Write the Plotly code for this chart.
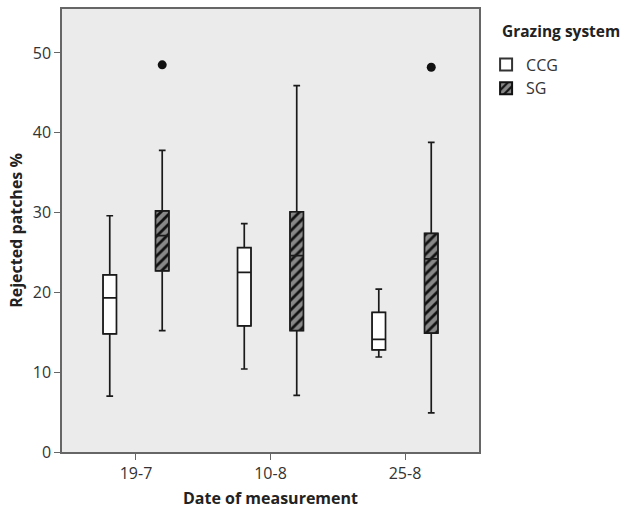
import plotly.graph_objects as go

dates = ["19-7", "10-8", "25-8"]
groups = ["CCG", "SG"]

ccg_low = [7.0, 10.4, 11.9]
ccg_q1 = [14.8, 15.8, 12.8]
ccg_med = [19.3, 22.5, 14.1]
ccg_q3 = [22.2, 25.6, 17.5]
ccg_high = [29.6, 28.6, 20.4]

sg_low = [15.2, 7.1, 4.9]
sg_q1 = [22.7, 15.2, 14.9]
sg_med = [27.1, 24.6, 24.2]
sg_q3 = [30.2, 30.1, 27.4]
sg_high = [37.8, 45.9, 38.8]

sg_outlier_date = ["19-7", "25-8"]
sg_outlier_val = [48.5, 48.2]

FONT = "Open Sans"
offset = 0.195
bw = 0.1
idx = list(range(len(dates)))
ccg_x = [i - offset for i in idx]
sg_x = [i + offset for i in idx]
out_x = [dates.index(d) + offset for d in sg_outlier_date]

fig = go.Figure()

# Box bodies (bars allow hatch patterns)
fig.add_trace(go.Bar(
    x=ccg_x, base=ccg_q1, y=[b - a for a, b in zip(ccg_q1, ccg_q3)],
    width=bw, name="CCG",
    marker=dict(color="white", line=dict(color="#333", width=1)),
    hoverinfo="skip",
))
fig.add_trace(go.Bar(
    x=sg_x, base=sg_q1, y=[b - a for a, b in zip(sg_q1, sg_q3)],
    width=bw, name="SG",
    marker=dict(color="#111", line=dict(color="#111", width=1),
                pattern=dict(shape="/", fgcolor="white", bgcolor="#111",
                             size=7, solidity=0.6, fillmode="overlay")),
    hoverinfo="skip",
))

# Whiskers and medians
fig.add_trace(go.Box(
    x=ccg_x, q1=ccg_q1, median=ccg_med, q3=ccg_q3,
    lowerfence=ccg_low, upperfence=ccg_high, width=bw,
    fillcolor="rgba(0,0,0,0)", line=dict(color="#1a1a1a", width=1.7),
    whiskerwidth=0.5, showlegend=False, boxpoints=False,
))
fig.add_trace(go.Box(
    x=sg_x, q1=sg_q1, median=sg_med, q3=sg_q3,
    lowerfence=sg_low, upperfence=sg_high, width=bw,
    fillcolor="rgba(0,0,0,0)", line=dict(color="#1a1a1a", width=1.7),
    whiskerwidth=0.5, showlegend=False, boxpoints=False,
))

fig.add_trace(go.Scatter(
    x=out_x, y=sg_outlier_val, mode="markers",
    marker=dict(color="#111", size=9), showlegend=False,
))

fig.update_layout(
    width=624, height=510,
    margin=dict(l=62, r=145, t=9, b=58, autoexpand=False),
    paper_bgcolor="white", plot_bgcolor="#ebebeb",
    font=dict(family=FONT, size=16, color="#333"),
    barmode="overlay",
    legend=dict(
        x=1.017, y=0.913, xanchor="left", yanchor="top",
        font=dict(size=16, color="#333"),
        tracegroupgap=0, itemsizing="constant",
        bgcolor="rgba(0,0,0,0)",
    ),
    showlegend=True,
    annotations=[dict(
        text="<b>Grazing system</b>", xref="paper", yref="paper",
        x=1.05, y=0.979, xanchor="left", yanchor="top", showarrow=False,
        font=dict(size=15.5, color="#222"),
    )],
)
fig.update_xaxes(
    range=[-0.55, 2.55], tickmode="array", tickvals=idx, ticktext=dates,
    showgrid=False, zeroline=False, automargin=False,
    showline=True, linecolor="#666", linewidth=1.5, mirror=True,
    ticks="outside", ticklen=6, tickcolor="#666",
    tickfont=dict(size=16),
    title=dict(text="<b>Date of measurement</b>", font=dict(size=16, color="#222"), standoff=10),
)
fig.update_yaxes(
    range=[0, 55.5], tickvals=[0, 10, 20, 30, 40, 50],
    showgrid=False, zeroline=False, automargin=False,
    showline=True, linecolor="#666", linewidth=1.5, mirror=True,
    ticks="outside", ticklen=6, tickcolor="#666",
    tickfont=dict(size=16),
    title=dict(text="<b>Rejected patches %</b>", font=dict(size=16, color="#222"), standoff=6),
)

fig.write_html("out.html")
